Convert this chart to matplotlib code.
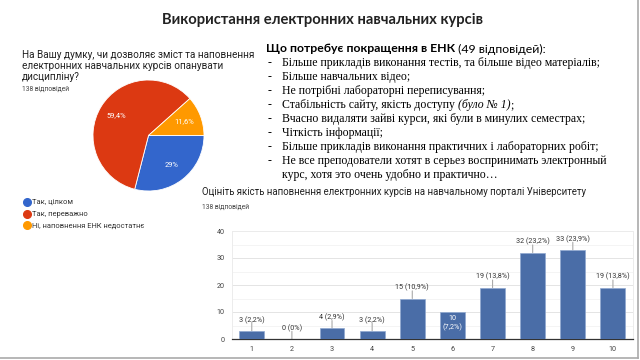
#!/usr/bin/env python3
# Slide: usage of e-learning courses (pie + bar + text list)
import numpy as np
import matplotlib
matplotlib.use('Agg')
import matplotlib.pyplot as plt
from matplotlib.lines import Line2D
from matplotlib.transforms import ScaledTranslation

W, H = 640, 360

# --- data ---
title = 'Використання електронних навчальних курсів'

pie_question = ('На Вашу думку, чи дозволяє зміст та наповнення\n'
                'електронних навчальних курсів опанувати\n'
                'дисципліну?')
pie_count = '138 відповідей'
pie_labels = ['Так, цілком', 'Так, переважно', 'Ні, наповнення ЕНК недостатнє']
pie_values = [29.0, 59.4, 11.6]
pie_colors = ['#3366cc', '#dc3912', '#ff9900']

list_header = 'Що потребує покращення в ЕНК'
list_header_tail = ' (49 відповідей):'
list_items = [
    'Більше прикладів виконання тестів, та більше відео матеріалів;',
    'Більше навчальних відео;',
    'Не потрібні лабораторні переписування;',
    'Стабільність сайту, якість доступу ',
    'Вчасно видаляти зайві курси, які були в минулих семестрах;',
    'Чіткість інформації;',
    'Більше прикладів виконання практичних і лабораторних робіт;',
    'Не все преподователи хотят в серьез воспринимать электронный\nкурс, хотя это очень удобно и практично…',
]
italic_note = '(було № 1)'

bar_question = 'Оцініть якість наповнення електронних курсів на навчальному порталі Університету'
bar_count = '138 відповідей'
scores = np.arange(1, 11)
counts = [3, 0, 4, 3, 15, 10, 19, 32, 33, 19]
total = 138
inside_labels = [6]   # label drawn inside bar

def fx(x):
    return x / W

def fy(y):
    return 1 - y / H

fig = plt.figure(figsize=(6.4, 3.6), dpi=100)
fig.patch.set_facecolor('white')
renderer = fig.canvas.get_renderer()

def right_edge(t):
    return t.get_window_extent(renderer).x1 / (fig.dpi * 6.4)

sans = ['Lato', 'DejaVu Sans']
gsans = ['Roboto', 'DejaVu Sans']
serif = ['Liberation Serif', 'DejaVu Serif']

# title
fig.text(fx(323), fy(20), title, ha='center', va='center', fontsize=10.6,
         fontweight='bold', family=sans, color='#222222')

# --- pie ---
fig.text(fx(22), fy(50), pie_question, ha='left', va='top', fontsize=7.2,
         family=gsans, color='#222222', linespacing=1.15)
fig.text(fx(22), fy(89), pie_count, ha='left', va='center', fontsize=4.9,
         family=gsans, color='#444444')

cx, cy, r = 148.5, 135.5, 55.5
ax_pie = fig.add_axes([fx(cx - r), fy(cy + r), 2 * r / W, 2 * r / H])
wedges, _, autotexts = ax_pie.pie(
    pie_values, colors=pie_colors, startangle=0, counterclock=False,
    autopct=lambda p: ('%.1f%%' % p).replace('.', ',').replace(',0%', '%'),
    pctdistance=0.68, wedgeprops=dict(edgecolor='white', linewidth=0.6))
ax_pie.set_xlim(-1, 1)
ax_pie.set_ylim(-1, 1)
for t in autotexts:
    t.set_color('white')
    t.set_fontsize(5.4)
    t.set_family(gsans)

handles = [Line2D([], [], marker='o', linestyle='', markersize=5.5,
                  markerfacecolor=c, markeredgecolor=c) for c in pie_colors]
fig.legend(handles, pie_labels, loc='upper left',
           bbox_to_anchor=(fx(20), fy(196)), frameon=False,
           prop=dict(family=gsans, size=5.4), handletextpad=0.25,
           labelspacing=0.62, borderaxespad=0, handlelength=1.0,
           labelcolor='#333333')

# --- text list ---
hx, hy = 266, 49
th = fig.text(fx(hx), fy(hy), list_header, ha='left', va='center', fontsize=8.8,
              fontweight='bold', family=sans, color='black')
fig.text(right_edge(th), fy(hy), list_header_tail, ha='left', va='center',
         fontsize=8.8, family=sans, color='black')

fs = 8.5
y0 = 63
step = 14
row = 0
for item in list_items:
    yy = y0 + step * row
    fig.text(fx(268), fy(yy), '-', ha='left', va='center', fontsize=fs,
             family=serif, color='black')
    lines = item.split('\n')
    for k, line in enumerate(lines):
        t = fig.text(fx(282), fy(yy + step * k), line, ha='left', va='center',
                     fontsize=fs, family=serif, color='black')
    if item.endswith(' '):
        t2 = fig.text(right_edge(t), fy(yy), italic_note, ha='left', va='center',
                      fontsize=fs, family=serif, style='italic', color='black')
        fig.text(right_edge(t2), fy(yy), ';', ha='left', va='center',
                 fontsize=fs, family=serif, color='black')
    row += len(lines)

# --- bar chart ---
fig.text(fx(202), fy(192), bar_question, ha='left', va='center', fontsize=6.9,
         family=gsans, color='#222222')
fig.text(fx(202), fy(207), bar_count, ha='left', va='center', fontsize=4.9,
         family=gsans, color='#444444')

ax = fig.add_axes([fx(231.7), fy(339), (633 - 231.7) / W, (339 - 231) / H])
bar_color = '#4a6da7'
ax.bar(scores, counts, width=0.62, color=bar_color, edgecolor='#8fa8d0',
       linewidth=0.5, zorder=3)
ax.set_xlim(0.5, 10.5)
ax.set_ylim(0, 40)
ax.set_yticks([0, 10, 20, 30, 40])
ax.set_yticks([5, 15, 25, 35], minor=True)
ax.set_xticks(scores)
ax.grid(axis='y', which='major', color='#e4e4e4', linewidth=0.7, zorder=0)
ax.grid(axis='y', which='minor', color='#f2f2f2', linewidth=0.6, zorder=0)
for s in ['top', 'right', 'left']:
    ax.spines[s].set_color('#ececec')
    ax.spines[s].set_linewidth(0.7)
ax.spines['bottom'].set_color('#333333')
ax.spines['bottom'].set_linewidth(0.9)
ax.tick_params(axis='both', which='both', length=0, labelsize=5.2,
               labelcolor='#444444', pad=5)
for lab in ax.get_xticklabels() + ax.get_yticklabels():
    lab.set_family(gsans)

for s, v in zip(scores, counts):
    pct = ('%.1f' % (100.0 * v / total)).rstrip('0').rstrip('.').replace('.', ',')
    if s in inside_labels:
        ax.text(s, v, '%d\n(%s%%)' % (v, pct), ha='center', va='top',
                fontsize=5.2, family=gsans, color='white', zorder=4,
                linespacing=1.3,
                transform=ax.transData + ScaledTranslation(0, -2 / 72, fig.dpi_scale_trans))
        continue
    ax.annotate('', xy=(s, v), xytext=(0, 5.5), textcoords='offset points',
                arrowprops=dict(arrowstyle='-', color='#aaaaaa', lw=0.8,
                                shrinkA=0, shrinkB=0), zorder=2)
    ax.annotate('%d (%s%%)' % (v, pct), xy=(s, v), xytext=(0, 7.8),
                textcoords='offset points', ha='center', va='center',
                fontsize=5.2, family=gsans, color='#333333', zorder=4)

# slide edges
fig.add_artist(Line2D([fx(637.5), fx(637.5)], [fy(0), fy(357.5)], color='#aaaaaa', lw=1.2))
fig.add_artist(Line2D([0, fx(637.5)], [fy(357.5), fy(357.5)], color='#aaaaaa', lw=1.2))

fig.savefig('out.png', dpi=100, facecolor='white')
